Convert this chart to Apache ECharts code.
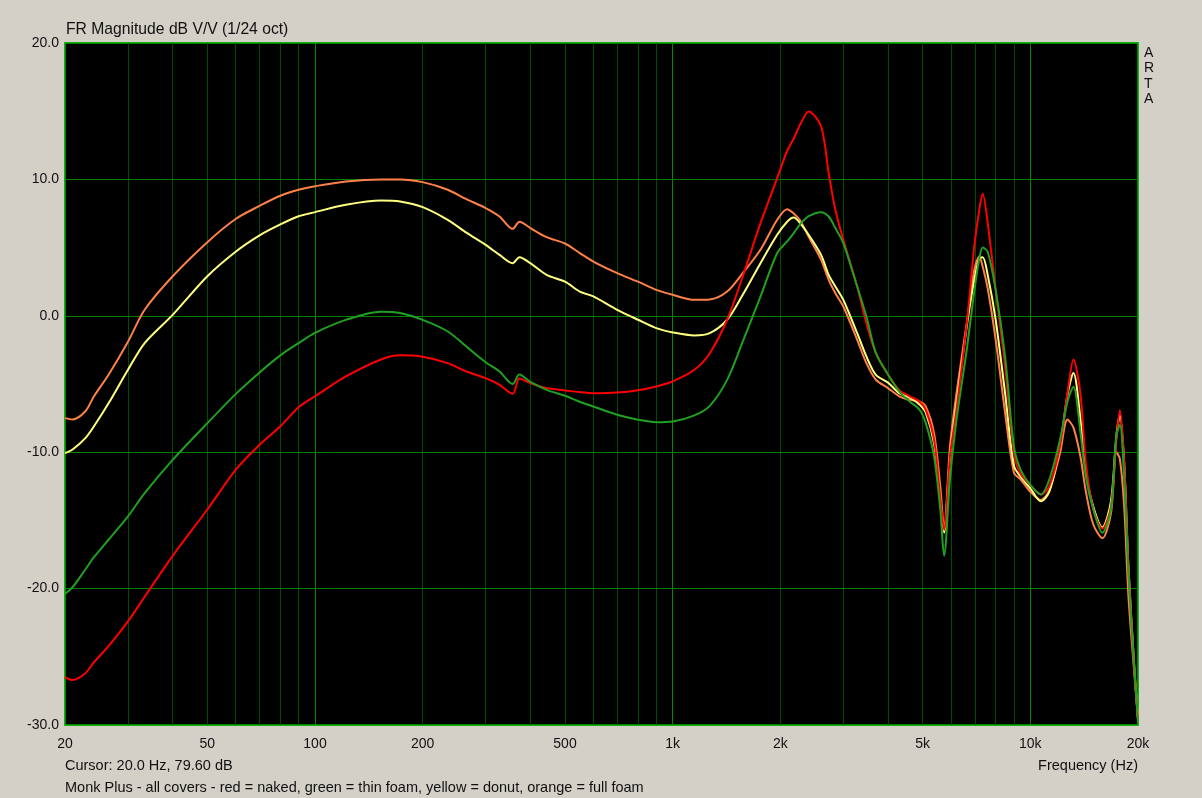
<!DOCTYPE html>
<html>
<head>
<meta charset="utf-8">
<script src="https://cdn.jsdelivr.net/npm/echarts@6/dist/echarts.min.js"></script>
<style>
html,body{margin:0;padding:0;background:#D4D0C8;}
#c{width:1202px;height:798px;}
</style>
</head>
<body>
<div id="c"></div>
<script>
const freqs = [20,21,22.8,24.1,26.5,30,33.4,40,50,60,70,80,90,100,122,153,173,200,235,265,300,328,357,373,400,444,500,550,600,700,800,900,1000,1150,1270,1420,1570,1760,1960,2090,2180,2270,2400,2600,2730,2850,3000,3280,3480,3700,4000,4300,4600,4900,5100,5380,5600,5740,5960,6200,6660,6970,7200,7360,7600,8000,8500,9000,9400,10000,10700,11300,12100,12700,13200,13800,14300,15000,15900,16800,17400,17800,18300,18800,19500,20000];

const redNaked = [-26.5,-26.7,-26.2,-25.4,-24.2,-22.4,-20.6,-17.6,-14.2,-11.3,-9.46,-8.1,-6.7,-5.9,-4.45,-3.2,-2.9,-3.0,-3.47,-4.08,-4.57,-5.06,-5.72,-4.6,-4.93,-5.3,-5.47,-5.6,-5.67,-5.62,-5.45,-5.18,-4.81,-3.96,-2.74,-0.29,2.88,6.79,10.1,12.1,13.0,14.0,14.98,13.9,10.46,7.77,5.57,2.15,-0.54,-2.74,-4.3,-5.45,-5.9,-6.28,-6.89,-9.1,-13.25,-15.7,-10.3,-7.1,-0.3,5.08,7.77,8.94,6.79,1.9,-3.7,-10.1,-11.6,-12.4,-13.1,-12.5,-9.6,-5.67,-3.2,-5.67,-10.8,-14.2,-15.6,-14.0,-9.1,-6.9,-10.8,-18.5,-25.7,-29.6];

const greenThin = [-20.4,-19.9,-18.6,-17.7,-16.4,-14.7,-13.0,-10.56,-7.87,-5.74,-4.15,-2.9,-2.0,-1.25,-0.3,0.29,0.2,-0.3,-1.15,-2.25,-3.4,-4.08,-5.0,-4.3,-4.85,-5.43,-5.86,-6.3,-6.65,-7.26,-7.62,-7.8,-7.75,-7.3,-6.6,-4.7,-1.9,1.4,4.6,5.45,6.06,6.7,7.3,7.6,7.28,6.43,5.33,2.15,-0.05,-2.74,-4.3,-5.55,-6.28,-6.89,-7.87,-10.3,-14.2,-17.6,-12.0,-7.87,-2.25,1.8,4.2,5.0,4.7,1.9,-2.98,-9.6,-11.3,-12.4,-13.1,-12.0,-9.1,-6.3,-5.2,-8.5,-11.8,-14.2,-15.9,-14.2,-8.8,-8.0,-12.0,-18.8,-25.5,-29.8];

const yellowDonut = [-10.07,-9.8,-8.97,-8.1,-6.4,-3.96,-2.0,0.07,2.9,4.7,5.9,6.7,7.3,7.6,8.14,8.45,8.38,7.97,7.04,6.1,5.2,4.47,3.86,4.3,3.86,3.0,2.5,1.78,1.42,0.44,-0.29,-0.9,-1.22,-1.44,-1.27,-0.29,1.54,3.86,5.94,6.9,7.2,6.8,5.94,4.47,3.0,2.15,1.17,-1.27,-2.98,-4.33,-4.9,-5.67,-6.0,-6.5,-7.1,-9.35,-13.25,-15.9,-10.3,-6.65,-0.54,2.64,4.2,4.3,3.0,-0.3,-5.67,-11.0,-11.8,-12.65,-13.6,-12.9,-9.6,-5.8,-4.2,-7.5,-11.5,-14.0,-15.5,-13.6,-8.8,-7.3,-10.8,-18.3,-25.5,-29.6];

const orangeFull = [-7.5,-7.6,-7.0,-5.9,-4.3,-1.9,0.44,2.9,5.4,7.1,8.06,8.8,9.24,9.5,9.85,10.0,10.0,9.8,9.24,8.55,7.9,7.28,6.38,6.9,6.43,5.77,5.3,4.6,3.98,3.13,2.5,1.9,1.54,1.17,1.2,1.78,3.13,4.84,7.04,7.82,7.5,7.0,5.8,4.1,2.64,1.66,0.68,-1.76,-3.47,-4.69,-5.3,-5.9,-6.16,-6.28,-6.65,-8.6,-12.5,-15.6,-9.6,-5.9,-0.3,3.37,4.35,3.6,2.0,-1.76,-7.1,-11.5,-12.0,-12.9,-13.5,-12.8,-10.1,-7.6,-8.2,-10.3,-12.9,-15.3,-16.3,-14.5,-10.0,-10.5,-14.0,-20.5,-26.0,-29.5];

const xTickLabels = [20,50,100,200,500,1000,2000,5000,10000,20000];
const minorGrid = [30,40,50,60,70,80,90,200,300,400,500,600,700,800,900,2000,3000,4000,5000,6000,7000,8000,9000];
const majorGrid = [100,1000,10000];
const dbGrid = [-20,-10,0,10];
const xRange = [20,20000];
const yRange = [-30,20];

const titleText = 'FR Magnitude dB V/V (1/24 oct)';
const cursorText = 'Cursor: 20.0 Hz, 79.60 dB';
const noteText = 'Monk Plus - all covers - red = naked, green = thin foam, yellow = donut, orange = full foam';

const pair = vals => freqs.map((f,i)=>[f, vals[i]]);
const FONT = 'Liberation Sans';
const fmtHz = v => v>=1000 ? (Math.round(v/1000))+'k' : String(Math.round(v));

const chart = echarts.init(document.getElementById('c'));
function lineSeries(name, vals, color, z){
  return {name, type:'line', data: pair(vals), showSymbol:false, symbol:'none', smooth:0.3,
    lineStyle:{color, width:2}, itemStyle:{color}, zlevel:1, z, silent:true};
}
function gridSeries(items, color){
  return {type:'line', data:[], zlevel:1, z:1, silent:true,
    markLine:{silent:true, symbol:'none', animation:false, zlevel:1, z:1, label:{show:false},
      lineStyle:{color, width:1, type:'solid', opacity:1},
      emphasis:{disabled:true},
      data: items.map(it=>Object.assign({lineStyle:{color, width:1, type:'solid', opacity:1}}, it))}};
}
const staticText = [
  {type:'text', left:66, top:22, style:{text:titleText, fill:'#111', font:'15.7px '+FONT}},
  {type:'text', left:1144, top:45, style:{text:'A\nR\nT\nA', fill:'#111', font:'14px '+FONT, lineHeight:15.5}},
  {type:'text', left:65, top:758, style:{text:cursorText, fill:'#111', font:'14.5px '+FONT}},
  {type:'text', left:65, top:780, style:{text:noteText, fill:'#111', font:'14.5px '+FONT}},
  {type:'text', right:64, top:758, style:{text:'Frequency (Hz)', fill:'#111', font:'14.5px '+FONT}}
];
chart.setOption({
  animation:false,
  backgroundColor:'#D4D0C8',
  grid:{left:65, top:43, right:64, bottom:73, show:true, backgroundColor:'#000', borderColor:'#00B000', borderWidth:1.5},
  xAxis:{type:'log', logBase:10, min:xRange[0], max:xRange[1],
    axisLine:{show:false, onZero:false}, axisTick:{show:false}, splitLine:{show:false},
    axisLabel:{customValues:xTickLabels, formatter:fmtHz, color:'#111', fontFamily:FONT, fontSize:14, margin:12}},
  yAxis:{type:'value', min:yRange[0], max:yRange[1], interval:10,
    axisLine:{show:false, onZero:false}, axisTick:{show:false}, splitLine:{show:false},
    axisLabel:{color:'#111', fontFamily:FONT, fontSize:14, margin:6, formatter:v=>v.toFixed(1)}},
  graphic: staticText,
  series:[
    gridSeries(minorGrid.map(f=>({xAxis:f})), '#004C00'),
    gridSeries(majorGrid.map(f=>({xAxis:f})), '#008A00'),
    gridSeries(dbGrid.map(v=>({yAxis:v})), '#008000'),
    lineSeries('full foam', orangeFull, '#FF8048', 3),
    lineSeries('donut', yellowDonut, '#FFFF80', 4),
    lineSeries('naked', redNaked, '#FF0000', 5),
    lineSeries('thin foam', greenThin, '#20A020', 6)
  ]
});
// opaque plot panel on the upper layer, placed through the chart's own scales
const tl = chart.convertToPixel({gridIndex:0}, [xRange[0], yRange[1]]);
const br = chart.convertToPixel({gridIndex:0}, [xRange[1], yRange[0]]);
chart.setOption({
  graphic: staticText.concat([{
    type:'rect', zlevel:1, z:0, silent:true,
    shape:{x:tl[0], y:tl[1], width:br[0]-tl[0], height:br[1]-tl[1]},
    style:{fill:'#000', stroke:'#00B000', lineWidth:1.5}
  }])
});
</script>
</body>
</html>
